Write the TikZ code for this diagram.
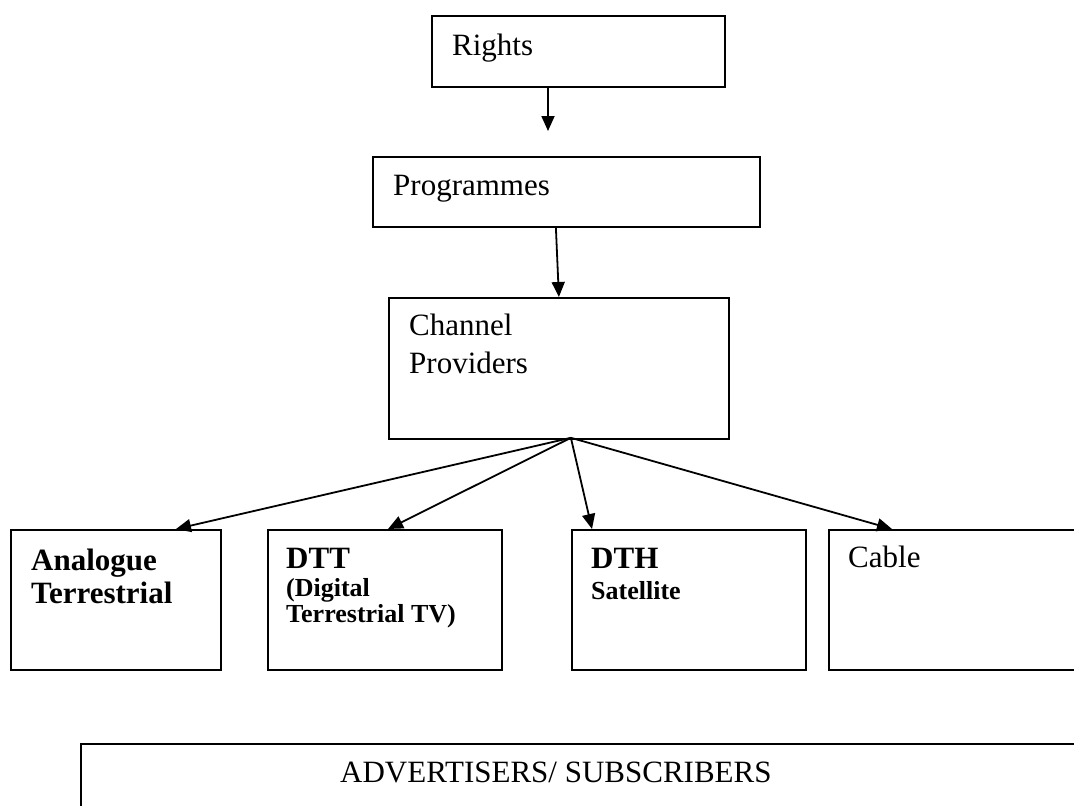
\documentclass[tikz,border=0pt]{standalone}
\usepackage{fontspec}
\setmainfont{Liberation Serif}
\usepackage{tikz}
\usetikzlibrary{arrows.meta}

\begin{document}
\begin{tikzpicture}[x=1pt,y=-1pt,
box/.style={draw,line width=1.8pt,inner sep=0pt,anchor=north west},
txt/.style={inner sep=0pt,anchor=base west,align=left,font=\fontsize{31}{38}\selectfont},
btxt/.style={txt,font=\fontsize{31}{33}\selectfont\bfseries},
arr/.style={line width=1.8pt,-{Triangle[length=15pt,width=13pt]}}
]
\clip (0,0) rectangle (1074,806);
\fill[white] (0,0) rectangle (1074,806);
% top chain
\node[box,minimum width=293pt,minimum height=71pt] (rights) at (431,15) {};
\node[box,minimum width=387pt,minimum height=70pt] (prog) at (372,156) {};
\node[box,minimum width=340pt,minimum height=141pt] (chan) at (388,297) {};
\node[txt] (rightsT) at (452,55) {Rights};
\node[txt] (progT) at (393,195) {Programmes};
\node[txt] (chanT) at (409,373) {Channel\\Providers};
% platforms
\node[box,minimum width=210pt,minimum height=140pt] (ana) at (10,529) {};
\node[box,minimum width=234pt,minimum height=140pt] (dtt) at (267,529) {};
\node[box,minimum width=234pt,minimum height=140pt] (dth) at (571,529) {};
\node[box,minimum width=270pt,minimum height=140pt] (cable) at (828,529) {};
\node[btxt] (anaT) at (31,603) {Analogue\\Terrestrial};
\node[btxt] (dttT) at (286,622) {DTT\\[-5pt]{\fontsize{26}{26}\selectfont (Digital}\\[-7pt]{\fontsize{26}{26}\selectfont Terrestrial TV)}};
\node[btxt] (dthT) at (591,599) {DTH\\[-2pt]{\fontsize{26}{26}\selectfont Satellite}};
\node[txt] (cableT) at (848,567) {Cable};
% audience
\node[box,minimum width=1020pt,minimum height=100pt] (adv) at (80,743) {};
\node[txt] (advT) at (340,782) {ADVERTISERS/ SUBSCRIBERS};
% arrows
\coordinate (r1) at (548,131);
\draw[arr] (r1 |- rights.south) -- (r1);
\draw[arr] ([xshift=-10.5pt]prog.south) -- (chan.north);
\coordinate (fan) at ([xshift=12pt,yshift=2pt]chan.south);
\draw[arr] (fan) -- ([xshift=166pt]ana.north west);
\draw[arr] (fan) -- ([xshift=121pt]dtt.north west);
\draw[arr] (fan) -- ([xshift=21pt]dth.north west);
\draw[arr] (fan) -- ([xshift=64pt]cable.north west);
\end{tikzpicture}
\end{document}
